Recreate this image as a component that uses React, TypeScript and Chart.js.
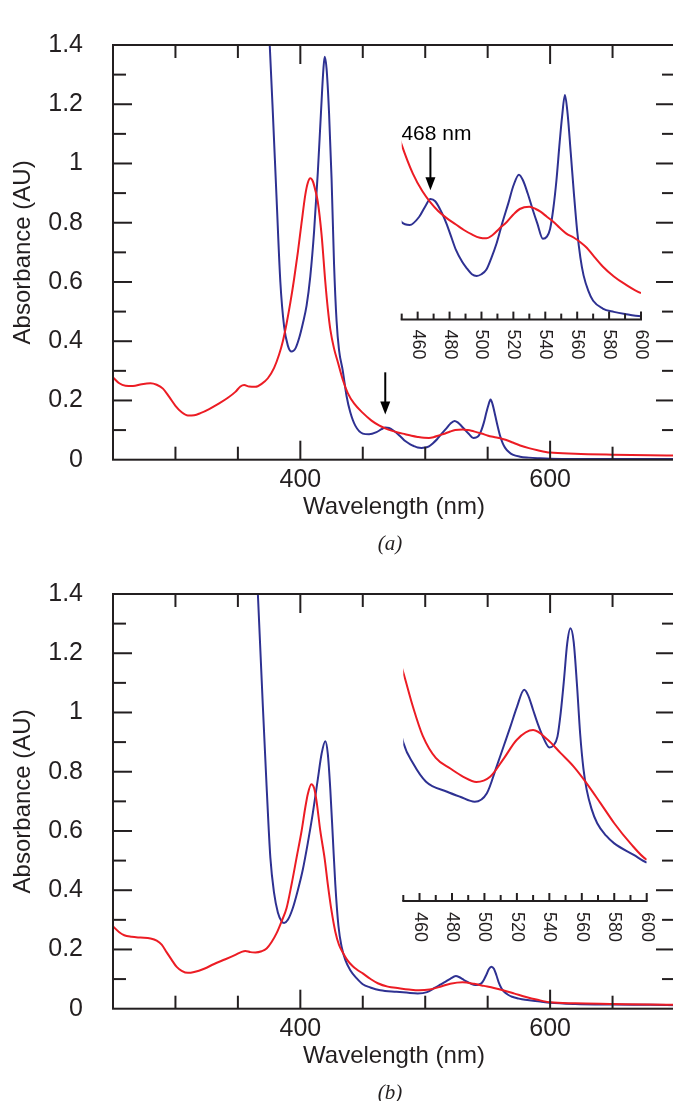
import React, { useEffect, useRef } from 'react';
import { Chart, registerables } from 'chart.js';

Chart.register(...registerables);

// ---------------- data ----------------
// Panel (a)
const redA_nm = [250, 255, 260, 266, 273, 280, 285, 290, 295, 300, 305, 310, 315, 320, 327, 335, 342, 348, 352, 355, 359, 364, 369, 374, 379, 383, 386, 389, 392, 395, 398, 401, 404, 406, 408, 410, 412, 414, 417, 420, 422, 424, 427, 430, 434, 438, 443, 450, 457, 463, 468, 473, 478, 484, 489, 494, 499, 503, 507, 511, 516, 520, 524, 530, 534, 537, 541, 545, 549, 553, 558, 562, 566, 570, 576, 583, 590, 600, 620, 650, 680, 700];
const redA_abs = [0.278, 0.258, 0.25, 0.249, 0.255, 0.258, 0.253, 0.24, 0.212, 0.182, 0.16, 0.149, 0.15, 0.157, 0.171, 0.19, 0.209, 0.229, 0.247, 0.252, 0.247, 0.246, 0.256, 0.275, 0.31, 0.355, 0.4, 0.46, 0.53, 0.61, 0.7, 0.8, 0.895, 0.935, 0.95, 0.94, 0.91, 0.87, 0.76, 0.6, 0.51, 0.44, 0.375, 0.33, 0.27, 0.225, 0.19, 0.158, 0.132, 0.116, 0.106, 0.098, 0.092, 0.086, 0.081, 0.077, 0.074, 0.0735, 0.0765, 0.082, 0.0885, 0.095, 0.1, 0.102, 0.1, 0.0976, 0.093, 0.0885, 0.083, 0.078, 0.074, 0.07, 0.065, 0.058, 0.048, 0.039, 0.032, 0.024, 0.02, 0.017, 0.015, 0.014];
const blueA_nm = [366, 370, 373, 375.5, 378, 381, 384, 387, 390, 393, 396, 399, 402, 405, 408, 411, 414, 416.5, 418.5, 419.5, 421, 423, 425, 427, 429, 431, 434, 437, 440, 444, 450, 455, 461, 465, 468, 471, 475, 478, 481, 484, 488, 491, 494, 497, 500, 503, 506, 509.5, 513, 517, 520, 523.5, 526, 529, 532, 535, 538.5, 541, 543, 545, 547, 549, 550.5, 552.3, 554, 556, 558, 560, 562, 564, 567, 570, 576, 583, 590, 600, 650, 700];
const blueA_abs = [2.25, 1.85, 1.6, 1.4, 1.17, 0.88, 0.6, 0.45, 0.385, 0.365, 0.375, 0.41, 0.46, 0.52, 0.62, 0.77, 0.97, 1.17, 1.32, 1.36, 1.32, 1.17, 0.95, 0.66, 0.47, 0.37, 0.3, 0.215, 0.16, 0.115, 0.088, 0.0855, 0.093, 0.103, 0.109, 0.107, 0.097, 0.087, 0.075, 0.063, 0.052, 0.046, 0.041, 0.0395, 0.041, 0.045, 0.055, 0.069, 0.087, 0.106, 0.121, 0.131, 0.126, 0.114, 0.1, 0.087, 0.073, 0.075, 0.082, 0.1, 0.126, 0.16, 0.183, 0.203, 0.186, 0.15, 0.113, 0.08, 0.056, 0.04, 0.026, 0.017, 0.01, 0.007, 0.005, 0.003, 0.002, 0.002];

// Panel (b)
const redB_nm = [250, 255, 259, 265, 272, 280, 285, 289, 293, 297, 301, 305, 310, 315, 323, 331, 340, 348, 353, 356, 360, 364, 369, 373, 377, 381, 385, 389, 393, 397, 401, 404, 406, 408.8, 411, 413, 416, 419.5, 422, 425, 428, 431, 434, 437.5, 442, 446, 450, 456, 462, 470, 479, 487, 495, 503.5, 512, 520, 530, 539, 547, 555, 563, 571.5, 580, 590, 600, 620, 650, 680, 700];
const redB_abs = [0.278, 0.258, 0.248, 0.243, 0.24, 0.237, 0.23, 0.216, 0.19, 0.165, 0.141, 0.128, 0.121, 0.124, 0.135, 0.151, 0.167, 0.182, 0.192, 0.195, 0.191, 0.19, 0.194, 0.203, 0.225, 0.255, 0.295, 0.34, 0.42, 0.51, 0.6, 0.68, 0.725, 0.758, 0.745, 0.7, 0.6, 0.506, 0.42, 0.33, 0.26, 0.215, 0.19, 0.165, 0.143, 0.13, 0.119, 0.101, 0.086, 0.0745, 0.069, 0.0647, 0.062, 0.0647, 0.0743, 0.084, 0.089, 0.084, 0.077, 0.07, 0.0613, 0.051, 0.0405, 0.03, 0.0215, 0.018, 0.016, 0.014, 0.013];
const blueB_nm = [358, 362, 366, 370, 373, 376, 379, 382, 385, 387, 390, 394, 398, 402, 406, 410, 414, 417, 420, 422, 424, 426, 428, 430.5, 433, 436, 440, 445, 450, 456, 464, 477, 485, 494, 501.5, 507.5, 512, 516, 520, 524.5, 527, 530, 533, 536.5, 540, 542.5, 545, 547, 549, 551, 553, 555, 557, 559, 561, 563, 566, 569.5, 575, 580, 592, 600, 620, 650, 680, 700];
const blueB_abs = [2.2, 1.8, 1.4, 1.02, 0.75, 0.51, 0.39, 0.325, 0.295, 0.289, 0.3, 0.34, 0.4, 0.47, 0.56, 0.66, 0.775, 0.86, 0.903, 0.86, 0.74, 0.58, 0.42, 0.28, 0.21, 0.165, 0.13, 0.103, 0.0825, 0.0717, 0.0621, 0.0569, 0.0543, 0.0517, 0.0561, 0.07, 0.081, 0.0908, 0.101, 0.11, 0.107, 0.0995, 0.092, 0.0847, 0.08, 0.081, 0.0856, 0.098, 0.115, 0.134, 0.142, 0.135, 0.113, 0.087, 0.069, 0.058, 0.048, 0.0405, 0.034, 0.03, 0.024, 0.02, 0.016, 0.014, 0.013, 0.012];

// axes / ticks
const mainXTicks = [300, 350, 400, 450, 500, 550, 600, 650];
const mainXLabels = [400, 600];
const mainYTicks = [0.1, 0.2, 0.3, 0.4, 0.5, 0.6, 0.7, 0.8, 0.9, 1.0, 1.1, 1.2, 1.3];
const mainYLabels = ['0', '0.2', '0.4', '0.6', '0.8', '1', '1.2', '1.4'];
const insetXTicks = [450, 460, 470, 480, 490, 500, 510, 520, 530, 540, 550, 560, 570, 580, 590, 600];
const insetXLabels = [460, 480, 500, 520, 540, 560, 580, 600];

// markers
const arrowMainA = { nm: 468, from: 0.295, to: 0.153 };
const arrowInsetA = { nm: 468, from: 0.156, to: 0.117, label: '468 nm' };

// ---------------- styles ----------------
const AXIS = '#231f20';
const RED = '#ec1c24';
const BLUE = '#2e3192';
const SANS = '"Liberation Sans", Arial, Helvetica, sans-serif';

const pts = (xs: number[], ys: number[]) => xs.map((x, i) => ({ x, y: ys[i] }));

function line(ctx: CanvasRenderingContext2D, x1: number, y1: number, x2: number, y2: number) {
  ctx.beginPath();
  ctx.moveTo(x1, y1);
  ctx.lineTo(x2, y2);
  ctx.stroke();
}

function drawArrow(ctx: CanvasRenderingContext2D, x: number, yTop: number, yTip: number) {
  const headH = 13;
  const headW = 5;
  ctx.save();
  ctx.strokeStyle = '#000';
  ctx.fillStyle = '#000';
  ctx.lineWidth = 2;
  line(ctx, x, yTop, x, yTip - headH + 1);
  ctx.beginPath();
  ctx.moveTo(x - headW, yTip - headH);
  ctx.lineTo(x + headW, yTip - headH);
  ctx.lineTo(x, yTip);
  ctx.closePath();
  ctx.fill();
  ctx.restore();
}

function dataset(data: { x: number; y: number }[], color: string) {
  return {
    data,
    borderColor: color,
    borderWidth: 2,
    pointRadius: 0,
    fill: false,
    cubicInterpolationMode: 'monotone' as const,
  };
}

function mainConfig(red: any[], blue: any[], arrow: any) {
  const framePlugin = {
    id: 'frame',
    afterDraw(chart: any) {
      const { ctx, chartArea } = chart;
      const { left, right, top, bottom } = chartArea;
      const xs = chart.scales.x;
      const ys = chart.scales.y;
      ctx.save();
      ctx.strokeStyle = AXIS;
      ctx.lineWidth = 2;
      ctx.strokeRect(left, top, right - left, bottom - top);
      for (const v of mainXTicks) {
        const px = xs.getPixelForValue(v);
        const len = mainXLabels.includes(v) ? 19 : 13;
        line(ctx, px, bottom, px, bottom - len);
        line(ctx, px, top, px, top + len);
      }
      for (const v of mainYTicks) {
        const py = ys.getPixelForValue(v);
        const len = Math.round(v * 10) % 2 === 0 ? 19 : 13;
        line(ctx, left, py, left + len, py);
        line(ctx, right, py, right - len, py);
      }
      ctx.restore();
      if (arrow) {
        drawArrow(ctx, xs.getPixelForValue(arrow.nm), ys.getPixelForValue(arrow.from), ys.getPixelForValue(arrow.to));
      }
    },
  };
  return {
    type: 'line',
    data: { datasets: [dataset(red, RED), dataset(blue, BLUE)] },
    options: {
      animation: false,
      responsive: false,
      events: [],
      layout: { padding: { top: 24, right: 4, left: 0, bottom: 0 } },
      plugins: { legend: { display: false }, tooltip: { enabled: false } },
      scales: {
        x: {
          type: 'linear',
          min: 250,
          max: 700,
          afterFit: (s: any) => {
            s.height = 89.3;
          },
          grid: { display: false, drawTicks: false },
          border: { display: false },
          ticks: {
            stepSize: 50,
            autoSkip: false,
            maxRotation: 0,
            minRotation: 0,
            padding: 5,
            color: AXIS,
            font: { family: SANS, size: 25 },
            callback: (v: number) => (mainXLabels.includes(v) ? String(v) : ''),
          },
          title: {
            display: true,
            text: 'Wavelength (nm)',
            color: AXIS,
            font: { family: SANS, size: 24 },
            padding: { top: 0, bottom: 27 },
          },
        },
        y: {
          type: 'linear',
          min: 0,
          max: 1.4,
          afterFit: (s: any) => {
            s.width = 113;
          },
          grid: { display: false, drawTicks: false },
          border: { display: false },
          ticks: {
            stepSize: 0.1,
            autoSkip: false,
            padding: 30,
            color: AXIS,
            font: { family: SANS, size: 25 },
            callback: (v: number) => {
              const k = Math.round(v * 10);
              return k % 2 === 0 ? mainYLabels[k / 2] : '';
            },
          },
          title: {
            display: true,
            text: 'Absorbance (AU)',
            color: AXIS,
            font: { family: SANS, size: 24 },
            padding: { top: 9, bottom: 0 },
          },
        },
      },
    },
    plugins: [framePlugin],
  };
}

function insetConfig(red: any[], blue: any[], geo: any, arrow: any) {
  const axisPlugin = {
    id: 'insetAxis',
    afterDraw(chart: any) {
      const { ctx, chartArea } = chart;
      const { left, right, bottom } = chartArea;
      const xs = chart.scales.x;
      const ys = chart.scales.y;
      ctx.save();
      ctx.strokeStyle = AXIS;
      ctx.lineWidth = 2;
      line(ctx, left - 1, bottom, right + 1, bottom);
      for (const v of insetXTicks) {
        const px = xs.getPixelForValue(v);
        const len = insetXLabels.includes(v) ? 8 : 6;
        line(ctx, px, bottom, px, bottom - len);
      }
      ctx.fillStyle = AXIS;
      ctx.font = `18px ${SANS}`;
      ctx.textAlign = 'left';
      ctx.textBaseline = 'middle';
      for (const v of insetXLabels) {
        const px = xs.getPixelForValue(v);
        ctx.save();
        ctx.translate(px, bottom + geo.labelGap);
        ctx.rotate(Math.PI / 2);
        ctx.fillText(String(v), 0, 0);
        ctx.restore();
      }
      ctx.restore();
      if (arrow) {
        const ax = xs.getPixelForValue(arrow.nm);
        const top = ys.getPixelForValue(arrow.from);
        drawArrow(ctx, ax, top, ys.getPixelForValue(arrow.to));
        ctx.save();
        ctx.fillStyle = '#000';
        ctx.font = `21px ${SANS}`;
        ctx.textAlign = 'center';
        ctx.textBaseline = 'alphabetic';
        ctx.fillText(arrow.label, ax + 6, top - 7);
        ctx.restore();
      }
    },
  };
  return {
    type: 'line',
    data: { datasets: [dataset(red, RED), dataset(blue, BLUE)] },
    options: {
      animation: false,
      responsive: false,
      events: [],
      layout: { padding: geo.padding },
      plugins: { legend: { display: false }, tooltip: { enabled: false } },
      scales: {
        x: { type: 'linear', min: 450, max: 600, display: false },
        y: { type: 'linear', min: 0, max: geo.yMax, display: false },
      },
    },
    plugins: [axisPlugin],
  };
}

function ChartCanvas({ config, style, width, height }: any) {
  const ref = useRef<HTMLCanvasElement>(null);
  useEffect(() => {
    const chart = new Chart(ref.current as HTMLCanvasElement, config);
    return () => chart.destroy();
  }, []);
  return <canvas ref={ref} width={width} height={height} style={{ position: 'absolute', width, height, ...style }} />;
}

const insetGeoA = {
  left: 390,
  top: 30,
  width: 270,
  height: 350,
  padding: { left: 11.7, right: 19, top: 13.1, bottom: 60.4 },
  yMax: 0.25,
  labelGap: 10,
};
const insetGeoB = {
  left: 390,
  top: 30,
  width: 270,
  height: 380,
  padding: { left: 13.3, right: 13.3, top: 14.8, bottom: 58 },
  yMax: 0.16,
  labelGap: 11,
};

function Panel({ top, red, blue, arrowMain, arrowInset, insetGeo, caption }: any) {
  return (
    <div style={{ position: 'absolute', left: 0, top, width: 673, height: 549 }}>
      <ChartCanvas config={mainConfig(red, blue, arrowMain)} width={680} height={549} style={{ left: 0, top: 0 }} />
      <ChartCanvas
        config={insetConfig(red, blue, insetGeo, arrowInset)}
        width={insetGeo.width}
        height={insetGeo.height}
        style={{ left: insetGeo.left, top: insetGeo.top }}
      />
      <div
        style={{
          position: 'absolute',
          left: 340,
          top: 531,
          width: 100,
          textAlign: 'center',
          fontFamily: '"Liberation Serif", "Times New Roman", serif',
          fontStyle: 'italic',
          fontSize: 21,
          lineHeight: '24px',
          color: AXIS,
        }}
      >
        ({caption})
      </div>
    </div>
  );
}

export default function App() {
  const redA = pts(redA_nm, redA_abs);
  const blueA = pts(blueA_nm, blueA_abs);
  const redB = pts(redB_nm, redB_abs);
  const blueB = pts(blueB_nm, blueB_abs);
  return (
    <div style={{ position: 'absolute', left: 0, top: 0, width: 673, height: 1101, overflow: 'hidden', background: '#fff' }}>
      <Panel top={0} red={redA} blue={blueA} arrowMain={arrowMainA} arrowInset={arrowInsetA} insetGeo={insetGeoA} caption="a" />
      <Panel top={549} red={redB} blue={blueB} arrowMain={null} arrowInset={null} insetGeo={insetGeoB} caption="b" />
    </div>
  );
}
